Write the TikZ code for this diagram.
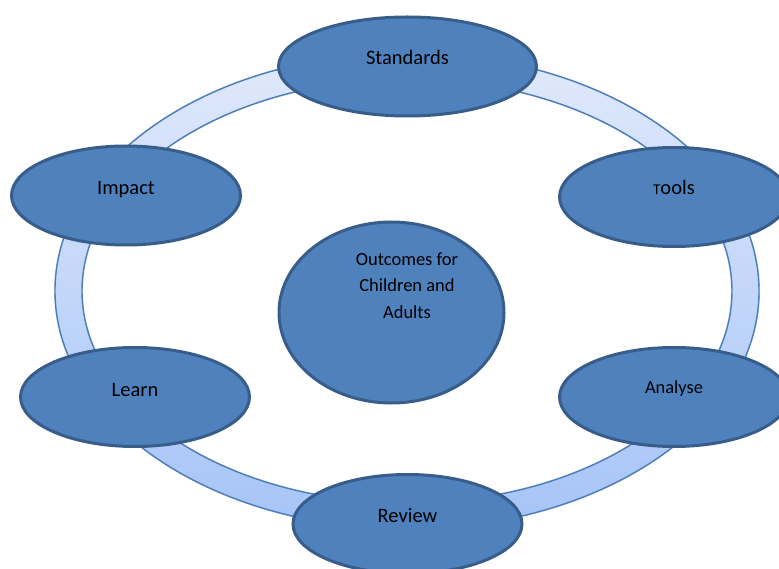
\documentclass[tikz,border=0pt]{standalone}
\usepackage{fontspec}
\setmainfont{Carlito}
\usetikzlibrary{shapes.geometric}
\definecolor{nodefill}{HTML}{4F81BD}
\definecolor{nodeline}{HTML}{385D8A}
\definecolor{ringline}{HTML}{4A7EBB}
\definecolor{ringtop}{HTML}{E0E9FB}
\definecolor{ringbot}{HTML}{A6C4F7}
\tikzset{
  bubble/.style={ellipse, draw=nodeline, fill=nodefill, line width=3pt,
    inner sep=0pt, minimum width=229pt, minimum height=99pt,
    font=\fontsize{20.5}{24}\selectfont, text=black},
  ringedge/.style={draw=ringline, line width=1.4pt}
}
\newcommand{\lift}[2]{\raisebox{#1}[0pt][0pt]{#2}}
\begin{document}
\begin{tikzpicture}[x=1pt,y=-1pt]
\useasboundingbox (0,0) rectangle (779,569);
\coordinate (rc) at (407,291);
% shadow of ring
\fill[black, opacity=0.12, even odd rule, shift={(2,3)}]
  (rc) ellipse [x radius=353pt, y radius=239pt]
  (rc) ellipse [x radius=324pt, y radius=211pt];
% ring band
\shade[top color=ringtop, bottom color=ringbot, even odd rule]
  (rc) ellipse [x radius=352pt, y radius=238pt]
  (rc) ellipse [x radius=325pt, y radius=212pt];
\draw[ringedge] (rc) ellipse [x radius=352pt, y radius=238pt];
\draw[ringedge] (rc) ellipse [x radius=325pt, y radius=212pt];
% nodes
\node[bubble, minimum width=258pt] (standards) at (407.5,66.5) {\lift{2pt}{Standards}};
\node[bubble] (impact) at (126,195.5) {\lift{0.5pt}{Impact}};
\node[bubble] (tools) at (674,197) {\lift{2pt}{{\fontsize{15}{15}\selectfont T}ools}};
\node[bubble, font=\fontsize{18.4}{22}\selectfont] (analyse) at (674,397) {\lift{4pt}{Analyse}};
\node[bubble] (learn) at (135,397) {\lift{1pt}{Learn}};
\node[bubble] (review) at (407.5,524) {\lift{2pt}{Review}};
\node[bubble, minimum width=225pt, minimum height=181pt,
  font=\fontsize{18.5}{26.5}\selectfont] (outcomes) at (391.5,312.5)
  {\hspace*{31pt}\lift{21.5pt}{\begin{tabular}{@{}c@{}}Outcomes for\\Children and\\Adults\end{tabular}}};
\end{tikzpicture}
\end{document}
